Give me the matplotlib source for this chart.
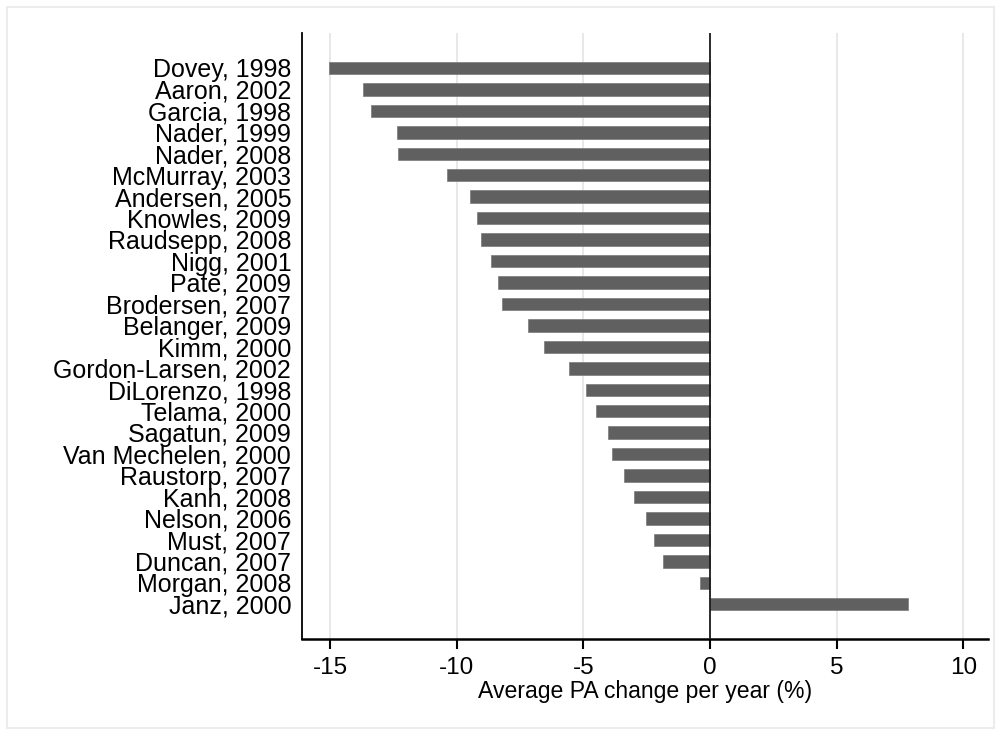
import matplotlib
matplotlib.use("Agg")
import matplotlib.pyplot as plt
from matplotlib.patches import Rectangle
import numpy as np

studies = ["Dovey, 1998", "Aaron, 2002", "Garcia, 1998", "Nader, 1999", "Nader, 2008",
           "McMurray, 2003", "Andersen, 2005", "Knowles, 2009", "Raudsepp, 2008",
           "Nigg, 2001", "Pate, 2009", "Brodersen, 2007", "Belanger, 2009", "Kimm, 2000",
           "Gordon-Larsen, 2002", "DiLorenzo, 1998", "Telama, 2000", "Sagatun, 2009",
           "Van Mechelen, 2000", "Raustorp, 2007", "Kanh, 2008", "Nelson, 2006",
           "Must, 2007", "Duncan, 2007", "Morgan, 2008", "Janz, 2000"]
pa_change = [-15.04, -13.71, -13.38, -12.38, -12.34, -10.38, -9.49, -9.20, -9.04,
             -8.67, -8.38, -8.20, -7.19, -6.57, -5.59, -4.90, -4.49, -4.04,
             -3.86, -3.41, -3.00, -2.53, -2.22, -1.86, -0.41, 7.82]
x_ticks = [-15, -10, -5, 0, 5, 10]

plt.rcParams['font.family'] = ['Liberation Sans', 'DejaVu Sans']

fig = plt.figure(figsize=(10.01, 7.35), dpi=100)
# light outer frame of the graph region
fig.patches.append(Rectangle((7/1001, 7/735), 1-14/1001, 1-14/735, transform=fig.transFigure,
                             fill=False, edgecolor="#ececec", linewidth=1.5, zorder=0))

ax = fig.add_axes([0.302, 0.1306, 0.685, 0.8245])

n = len(studies)
pos = n - 1 - np.arange(n)

for t in x_ticks:
    if t != 0:
        ax.axvline(t, color="#e4e4e4", linewidth=1.2, zorder=0)

ax.barh(pos, pa_change, height=0.58, color="#606060", edgecolor="#7a7a7a",
        linewidth=0.5, zorder=2)
ax.axvline(0, color="#1a1a1a", linewidth=1.3, zorder=3)

ax.set_xlim(-16.1, 10.97)
ax.set_ylim(-1.62, n - 1 + 1.63)
ax.set_yticks(pos)
ax.set_yticklabels(studies, fontsize=18)
ax.tick_params(axis="y", length=0, pad=8)
ax.set_xticks(x_ticks)
ax.set_xticklabels([str(t) for t in x_ticks], fontsize=17.5)
ax.tick_params(axis="x", length=7, width=1.5, pad=6, direction="out")
ax.set_xlabel("Average PA change per year (%)", fontsize=16.6, labelpad=1)

ax.spines["top"].set_visible(False)
ax.spines["right"].set_visible(False)
ax.spines["left"].set_linewidth(1.3)
ax.spines["bottom"].set_linewidth(1.8)

fig.savefig("out.png", dpi=100)
